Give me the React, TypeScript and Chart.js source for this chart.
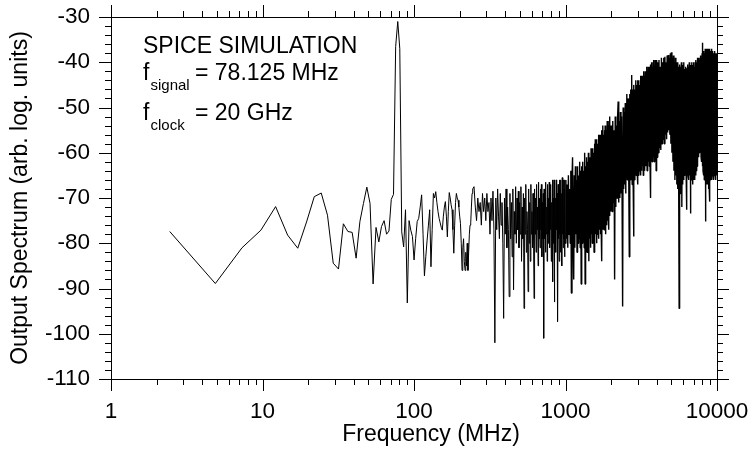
import React, { useEffect, useRef } from "react";
import { Chart, registerables } from "chart.js";

Chart.register(...registerables);

// FFT bin width: 20 GHz clock, 8192-point record -> MHz per bin
const BIN_MHZ = 20000 / 8192;

// Spectrum values (arb. log units).
// Segment A: every bin, k = 1..100
const segABins = { start: 1, step: 1 };
const segA = [
  -77.4, -88.9, -81.0, -77.1, -71.9, -78.2, -81.1, -75.3, -69.7, -68.9,
  -73.8, -84.4, -85.7, -75.7, -77.4, -77.6, -83.3, -75.2, -71.2, -67.6,
  -71.2, -89.0, -76.5, -79.7, -76.3, -75.0, -78.0, -77.3, -70.3, -69.2,
  -36.5, -31.0, -37.0, -77.5, -80.8, -72.6, -93.2, -75.0, -77.1, -78.5,
  -83.7, -79.0, -75.2, -74.5, -72.0, -69.3, -78.0, -87.2, -83.0, -79.3,
  -76.0, -72.6, -85.2, -77.0, -69.0, -70.0, -68.6, -71.0, -73.0, -74.5,
  -75.5, -76.5, -77.1, -74.0, -72.0, -70.8, -74.0, -78.6, -73.0, -68.8,
  -70.0, -71.5, -72.6, -77.0, -82.2, -76.0, -71.0, -69.0, -70.0, -70.5,
  -72.0, -74.0, -75.6, -80.0, -86.0, -81.0, -79.0, -84.0, -86.0, -82.0,
  -85.0, -80.0, -86.0, -82.0, -78.0, -76.0, -75.5, -72.0, -69.0, -68.0,
];

// Segment B: k = 102..408, every 2nd bin
const segBBins = { start: 102, step: 2 };
const segB = [
  -67.5, -72, -75, -70, -73, -71, -76, -69, -73, -70,
  -75, -69, -73, -71, -78, -70, -75, -68.5, -77, -102,
  -70, -77, -68, -74, -79, -69, -76, -71, -80, -96.6,
  -70, -78, -68, -81, -72, -77, -91.8, -69, -79, -71,
  -83, -68, -90.3, -73, -78, -67.5, -80, -70, -77, -68.5,
  -81, -71, -78, -67.5, -84, -72, -79, -69, -94.4, -70,
  -78, -67, -82, -73, -77, -90.7, -68, -80, -71, -84,
  -67, -78, -73, -81, -69, -79, -92.2, -68, -78, -70,
  -82, -67, -77, -72, -85, -66.5, -79, -70, -81, -68,
  -77, -67, -83, -71, -79, -69, -101, -68, -79, -70,
  -82, -66.5, -78, -72, -84, -67, -80, -70, -78, -66.5,
  -81, -69, -77, -67, -84, -71, -79, -66, -88.5, -70,
  -80, -66, -93, -68, -78, -70, -82, -66, -77, -69,
  -81, -97.3, -67, -79, -70, -84, -66, -78, -68, -82,
  -66, -80, -69, -85, -65.5, -78, -70, -81, -66, -79,
  -68, -83, -66, -80,
];

// Segment C1: k = 412..816, every 4th bin
const segC1Bins = { start: 412, step: 4 };
const segC1 = [
  -66, -79, -67, -81, -65, -78, -68, -80, -64, -91,
  -66, -61, -79, -88, -65, -81, -63, -78, -66, -82,
  -63, -80, -65, -79, -62, -81, -64, -89, -63, -80,
  -62, -78, -64, -81, -60, -89, -63, -79, -61, -82,
  -62, -80, -60, -84, -61, -79, -63, -81, -59, -78,
  -61, -80, -59, -77, -60, -82, -58, -79, -57, -78,
  -59, -80, -57, -78, -58, -76, -56, -79, -58, -77,
  -56, -78, -57, -76, -55, -84, -57, -77, -54, -75,
  -56, -77, -55, -76, -54, -78, -56, -74, -55, -76,
  -53, -75, -55, -73, -54, -77, -53, -74, -52, -72,
  -54, -73,
];

// Segment C2: k = 824..1640, every 8th bin
const segC2Bins = { start: 824, step: 8 };
const segC2 = [
  -54, -73, -53, -71, -55, -88, -52, -72, -54, -70,
  -52, -48.7, -71, -53, -70, -51, -69, -52, -70, -94,
  -50, -68, -51, -67, -49, -69, -50, -47, -66, -49,
  -48, -67, -83, -47, -66, -46, -65, -42.8, -67, -46,
  -65, -78.5, -45, -66, -46, -64, -44, -65, -45, -64,
  -67, -44, -65, -44, -64, -45, -63, -43, -65, -44,
  -64, -43, -63, -44, -65, -42, -63, -43, -64, -42,
  -63, -43, -62, -41, -64, -42, -63, -41, -62, -42,
  -63, -41, -62, -40.5, -70, -41, -61, -40, -62, -41,
  -60, -40, -61, -39.5, -62, -41, -60, -39.5, -61, -40,
  -64, -39.5, -60,
];

// Segment C3: k = 1648..4096, every 16th bin
const segC3Bins = { start: 1648, step: 16 };
const segC3 = [
  -61, -40, -60, -39.5, -59, -41, -59.4, -39, -58, -40,
  -57, -39, -58, -38.8, -56, -40, -57, -38.5, -55.5, -38.4,
  -55, -39, -56, -38, -58, -37.8, -60, -39, -62, -38.5,
  -64, -40, -66, -39, -65, -40.2, -67, -40, -68, -41,
  -67, -94.4, -40.5, -69, -41, -68, -40, -72, -40.6, -67,
  -41, -66, -40, -65, -41.5, -64, -41, -63.5, -72.6, -41.3,
  -64, -40.5, -65, -41, -66, -40, -65, -41, -73.4, -40.6,
  -66, -40, -65, -40.6, -67, -41, -66, -40, -65, -41,
  -66, -40, -65, -39.5, -64, -40, -63, -39, -62, -40,
  -61, -39, -60, -39.5, -59.4, -39, -60, -38.5, -61, -39,
  -62, -38, -63, -35.7, -64, -38, -65, -37.5, -66, -38,
  -65, -37, -75.2, -38, -66, -37.5, -67, -37, -66, -37.5,
  -67, -37.3, -68, -37, -67, -38, -70.8, -37, -66, -38,
  -65, -37.5, -66, -37, -65, -38, -64, -37.5, -65, -38,
  -66, -38, -65, -37.5, -64, -39, -65, -38, -66, -38.5,
  -64, -39, -65, -38,
];

// Axis ticks
const xTickValues = [
  1, 2, 3, 4, 5, 6, 7, 8, 9,
  10, 20, 30, 40, 50, 60, 70, 80, 90,
  100, 200, 300, 400, 500, 600, 700, 800, 900,
  1000, 2000, 3000, 4000, 5000, 6000, 7000, 8000, 9000,
  10000,
];
const xTickLabels = [1, 10, 100, 1000, 10000];
const yTickValues = [
  -110, -108, -106, -104, -102, -100, -98, -96, -94, -92,
  -90, -88, -86, -84, -82, -80, -78, -76, -74, -72,
  -70, -68, -66, -64, -62, -60, -58, -56, -54, -52,
  -50, -48, -46, -44, -42, -40, -38, -36, -34, -32, -30,
];
const yTickLabels = [-110, -100, -90, -80, -70, -60, -50, -40, -30];

const xTitle = "Frequency (MHz)";
const yTitle = "Output Spectrum (arb. log. units)";
const noteTitle = "SPICE SIMULATION";
const noteSignal = { sub: "signal", rest: "= 78.125 MHz" };
const noteClock = { sub: "clock", rest: "= 20 GHz" };

const FONT = '"Liberation Sans", Arial, Helvetica, sans-serif';

function toPoints(bins: { start: number; step: number }, vals: number[]) {
  return vals.map((v, i) => ({ x: (bins.start + i * bins.step) * BIN_MHZ, y: v }));
}

const framePlugin = {
  id: "frameTicks",
  afterDraw(chart: any) {
    const { ctx, chartArea: a, scales } = chart;
    const xs = scales.x;
    const ys = scales.y;
    ctx.save();
    ctx.strokeStyle = "#000";
    ctx.lineWidth = 1;
    ctx.beginPath();
    for (const t of xs.ticks) {
      const px = Math.round(xs.getPixelForValue(t.value)) + 0.5;
      const len = xTickLabels.includes(t.value) ? 12 : 6;
      ctx.moveTo(px, a.bottom);
      ctx.lineTo(px, a.bottom + len);
      ctx.moveTo(px, a.top);
      ctx.lineTo(px, a.top - len);
    }
    for (const t of ys.ticks) {
      const py = Math.round(ys.getPixelForValue(t.value)) + 0.5;
      const len = yTickLabels.includes(t.value) ? 12 : 6;
      ctx.moveTo(a.left, py);
      ctx.lineTo(a.left - len, py);
      ctx.moveTo(a.right, py);
      ctx.lineTo(a.right + len, py);
    }
    ctx.stroke();

    // annotation text
    ctx.fillStyle = "#000";
    ctx.textAlign = "left";
    ctx.textBaseline = "alphabetic";
    const tx = a.left + 32;
    ctx.font = `23px ${FONT}`;
    ctx.fillText(noteTitle, tx, a.top + 36);
    ctx.fillText("f", tx, a.top + 63);
    ctx.fillText(noteSignal.rest, tx + 52, a.top + 63);
    ctx.fillText("f", tx, a.top + 103);
    ctx.fillText(noteClock.rest, tx + 52, a.top + 103);
    ctx.font = `15px ${FONT}`;
    ctx.fillText(noteSignal.sub, tx + 7.5, a.top + 72.5);
    ctx.fillText(noteClock.sub, tx + 7.5, a.top + 112.5);

    // x axis title
    ctx.font = `23px ${FONT}`;
    ctx.textAlign = "center";
    ctx.fillText(xTitle, (a.left + a.right) / 2 + 17, chart.height - 8);
    ctx.restore();
  },
};

const noPad = (s: any) => {
  s.paddingLeft = 0;
  s.paddingRight = 0;
  s.paddingTop = 0;
  s.paddingBottom = 0;
};

export default function App() {
  const canvasRef = useRef<HTMLCanvasElement | null>(null);

  useEffect(() => {
    const canvas = canvasRef.current;
    if (!canvas) return;
    Chart.defaults.font.family = FONT;
    const points = [
      ...toPoints(segABins, segA),
      ...toPoints(segBBins, segB),
      ...toPoints(segC1Bins, segC1),
      ...toPoints(segC2Bins, segC2),
      ...toPoints(segC3Bins, segC3),
    ];
    const denseFrom = segA.length + segB.length - 1;
    const setXTicks = (s: any) => {
      s.ticks = xTickValues.map((v) => ({ value: v, major: xTickLabels.includes(v) }));
    };
    const setYTicks = (s: any) => {
      s.ticks = yTickValues.map((v) => ({ value: v }));
    };
    const chart = new Chart(canvas, {
      type: "line",
      data: {
        datasets: [
          {
            data: points,
            borderColor: "#000",
            borderWidth: 1,
            borderJoinStyle: "bevel",
            pointRadius: 0,
            fill: false,
            tension: 0,
            segment: {
              borderWidth: (c: any) => (c.p0DataIndex >= denseFrom ? 1.4 : 1),
            },
          },
        ],
      },
      options: {
        responsive: false,
        animation: false,
        devicePixelRatio: 1,
        layout: { padding: 0 },
        plugins: { legend: { display: false }, tooltip: { enabled: false } },
        scales: {
          x: {
            type: "logarithmic",
            position: "bottom",
            min: 1,
            max: 10000,
            afterBuildTicks: setXTicks,
            afterFit: (s: any) => {
              s.height = 70;
              noPad(s);
            },
            grid: { drawOnChartArea: false, drawTicks: false },
            border: { display: true, color: "#000", width: 1 },
            ticks: {
              autoSkip: false,
              maxRotation: 0,
              minRotation: 0,
              padding: 19,
              color: "#000",
              font: { size: 22.5, family: FONT },
              callback: (v: any) => (xTickLabels.includes(Number(v)) ? String(v) : ""),
            },
          },
          x2: {
            type: "logarithmic",
            position: "top",
            min: 1,
            max: 10000,
            afterBuildTicks: setXTicks,
            afterFit: (s: any) => {
              s.height = 17;
              noPad(s);
            },
            grid: { drawOnChartArea: false, drawTicks: false },
            border: { display: true, color: "#000", width: 1 },
            ticks: { display: false },
          },
          y: {
            type: "linear",
            position: "left",
            min: -110,
            max: -30,
            afterBuildTicks: setYTicks,
            afterFit: (s: any) => {
              s.width = 111;
              noPad(s);
            },
            grid: { drawOnChartArea: false, drawTicks: false },
            border: { display: true, color: "#000", width: 1 },
            ticks: {
              autoSkip: false,
              padding: 21,
              color: "#000",
              font: { size: 22.5, family: FONT },
              callback: (v: any) => (yTickLabels.includes(Number(v)) ? String(v) : ""),
            },
            title: {
              display: true,
              text: yTitle,
              color: "#000",
              font: { size: 23, family: FONT },
              padding: { top: 7.1, bottom: 0 },
            },
          },
          y2: {
            type: "linear",
            position: "right",
            min: -110,
            max: -30,
            afterBuildTicks: setYTicks,
            afterFit: (s: any) => {
              s.width = 34;
              noPad(s);
            },
            grid: { drawOnChartArea: false, drawTicks: false },
            border: { display: true, color: "#000", width: 1 },
            ticks: { display: false },
          },
        },
      },
      plugins: [framePlugin],
    });
    return () => chart.destroy();
  }, []);

  return (
    <div style={{ position: "fixed", left: 0, top: 0, width: 751, height: 449, background: "#fff" }}>
      <canvas ref={canvasRef} width={751} height={449} style={{ display: "block" }} />
    </div>
  );
}
